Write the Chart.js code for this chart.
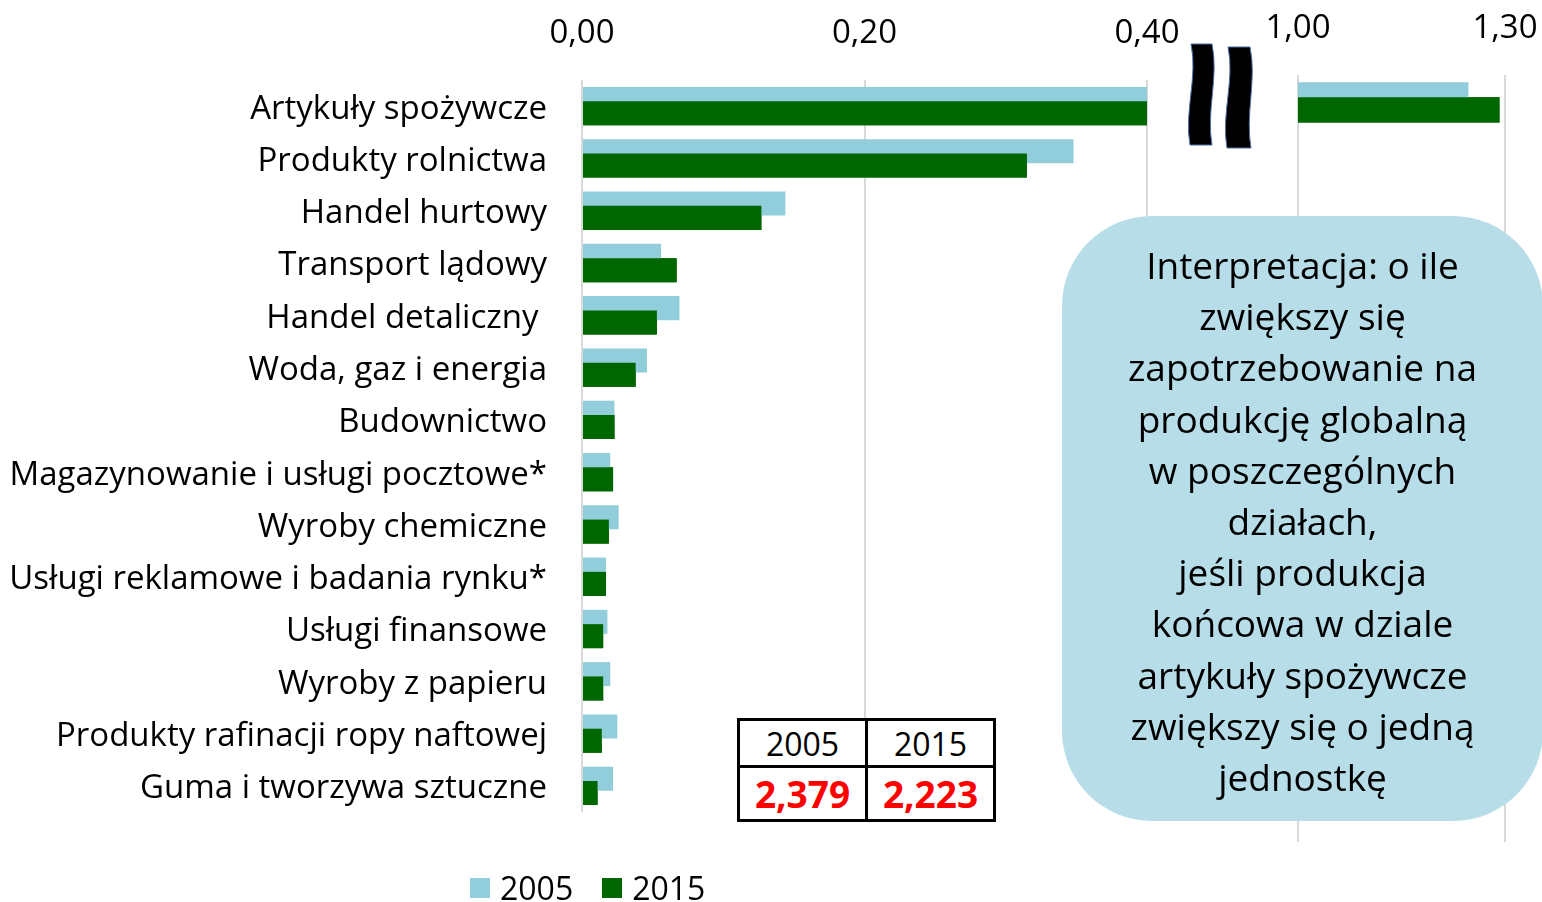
<!DOCTYPE html>
<html lang="pl">
<head>
<meta charset="utf-8">
<title>Zapotrzebowanie na produkcję globalną</title>
<script src="https://cdn.jsdelivr.net/npm/chart.js@4.4.1/dist/chart.umd.min.js"></script>
<style>
  html, body { margin: 0; background: #fff; }
  body { font-family: "Open Sans", sans-serif; color: #000; }
  #wrap { position: relative; width: 1542px; height: 902px; overflow: hidden; }
  #wrap canvas { position: absolute; top: 0; }
  #leftChart { left: 0; }
  #rightChart { left: 1260px; }
  #brk { position: absolute; left: 0; top: 0; }
  #note {
    position: absolute; left: 1062px; top: 216px; width: 481px; height: 605px;
    box-sizing: border-box; padding-top: 23px; border-radius: 90px;
    background: #b7dee8; text-align: center; font-size: 37px; line-height: 51.2px;
  }
  #sums {
    position: absolute; left: 737px; top: 718px; width: 259px;
    border-collapse: collapse; background: #fff;
  }
  #sums td { border: 3px solid #000; text-align: center; padding: 0; width: 50%; }
  #sums tr.yr td { height: 44px; font-size: 32px; }
  #sums tr.val td { height: 51px; font-size: 37px; font-weight: bold; color: #f00; }
  #legend {
    position: absolute; left: 470px; top: 872px; display: flex; align-items: center;
    font-size: 32px; line-height: 32px; white-space: nowrap;
  }
  #legend .box { width: 20px; height: 20px; margin-right: 10px; }
  #legend .item { display: flex; align-items: center; margin-right: 29px; }
</style>
</head>
<body>
<div id="wrap">
  <canvas id="leftChart" width="1200" height="830"></canvas>
  <canvas id="rightChart" width="282" height="860"></canvas>

  <svg id="brk" width="1542" height="902">
    <path d="M1191,44 C1198,77 1184,111 1190,145 L1212,145 C1206,111 1219,77 1212,44 Z"
          fill="#000" stroke="#4a6fa5" stroke-width="1"/>
    <path d="M1228,47 C1235,80 1221,114 1227,148 L1251,148 C1245,114 1257,80 1250,47 Z"
          fill="#000" stroke="#4a6fa5" stroke-width="1"/>
  </svg>

  <table id="sums">
    <tr class="yr"><td>2005</td><td>2015</td></tr>
    <tr class="val"><td>2,379</td><td>2,223</td></tr>
  </table>

  <div id="note">Interpretacja: o ile<br>zwiększy się<br>zapotrzebowanie na<br>produkcję globalną<br>w poszczególnych<br>działach,<br>jeśli produkcja<br>końcowa w dziale<br>artykuły spożywcze<br>zwiększy się o jedną<br>jednostkę</div>

  <div id="legend"></div>
</div>

<script>
const categories = [
  "Artykuły spożywcze",
  "Produkty rolnictwa",
  "Handel hurtowy",
  "Transport lądowy",
  "Handel detaliczny ",
  "Woda, gaz i energia",
  "Budownictwo",
  "Magazynowanie i usługi pocztowe*",
  "Wyroby chemiczne",
  "Usługi reklamowe i badania rynku*",
  "Usługi finansowe",
  "Wyroby z papieru",
  "Produkty rafinacji ropy naftowej",
  "Guma i tworzywa sztuczne",
];
const values2005 = [1.247, 0.348, 0.144, 0.056, 0.069, 0.046, 0.023, 0.020, 0.026, 0.017, 0.018, 0.020, 0.025, 0.022];
const values2015 = [1.292, 0.315, 0.127, 0.067, 0.053, 0.038, 0.023, 0.022, 0.019, 0.017, 0.015, 0.015, 0.014, 0.011];
const seriesNames = ["2005", "2015"];
const seriesColors = ["#92cddc", "#006600"];
const leftTicks = [0, 0.2, 0.4];
const rightTicks = [1.0, 1.3];

const FONT = "'Open Sans', sans-serif";
const num = v => Number(v).toFixed(2).replace(".", ",");

Chart.defaults.font.family = FONT;

// Chart.js paints the first dataset on top; in the original the 2015 bar
// overlaps the 2005 one, so paint 2015 once more over everything.
const topLayer = {
  id: "topLayer",
  afterDatasetsDraw(chart) {
    const {ctx, chartArea: a} = chart;
    const data = chart.data.datasets[1].data;
    ctx.save();
    ctx.beginPath();
    ctx.rect(a.left, a.top, a.right - a.left, a.bottom - a.top);
    ctx.clip();
    chart.getDatasetMeta(1).data.forEach((el, i) => { if (data[i] !== null) el.draw(ctx); });
    ctx.restore();
  }
};

function xAxis(ticks, height) {
  return {
    type: "linear",
    position: "top",
    min: ticks[0],
    max: ticks[ticks.length - 1],
    afterBuildTicks: s => { s.ticks = ticks.map(v => ({value: v})); },
    // keep the chart area where the layout padding puts it
    afterFit: s => { s.height = height; s.paddingLeft = 0; s.paddingRight = 0; },
    grid: {color: "#d9d9d9", lineWidth: 2, drawTicks: false},
    border: {display: false},
    ticks: {color: "#000", font: {size: 33}, padding: 27, maxRotation: 0, callback: v => num(v)},
  };
}

function datasets(pick) {
  return [values2005, values2015].map((vals, i) => ({
    label: seriesNames[i],
    data: vals.map(pick),
    backgroundColor: seriesColors[i],
    categoryPercentage: 0.547,
    barPercentage: 1.68,
    clip: 0,
  }));
}

function chartOpts(padding, yAxis, xTicks, xHeight) {
  return {
    indexAxis: "y",
    responsive: false,
    animation: false,
    layout: {padding},
    plugins: {legend: {display: false}, tooltip: {enabled: false}},
    scales: {x: xAxis(xTicks, xHeight), y: yAxis},
  };
}

new Chart(document.getElementById("leftChart"), {
  type: "bar",
  data: {labels: categories, datasets: datasets(v => v)},
  options: chartOpts(
    {left: 0, right: 53, top: 0, bottom: 18},
    {
      grid: {display: false, drawTicks: false}, border: {display: false},
      ticks: {color: "#000", font: {size: 33}, padding: 35, labelOffset: 3, autoSkip: false},
      afterFit: s => { s.width = 582; s.paddingTop = 0; s.paddingBottom = 0; },
    },
    leftTicks, 80),
  plugins: [topLayer],
});

new Chart(document.getElementById("rightChart"), {
  type: "bar",
  data: {labels: categories, datasets: datasets(v => v >= rightTicks[0] ? v : null)},
  options: chartOpts(
    {left: 38, right: 37, top: 0, bottom: 18},
    {display: false},
    rightTicks, 75),
  plugins: [topLayer],
});

document.getElementById("legend").innerHTML = seriesNames.map((n, i) =>
  `<div class="item"><div class="box" style="background:${seriesColors[i]}"></div>${n}</div>`
).join("");
</script>
</body>
</html>
